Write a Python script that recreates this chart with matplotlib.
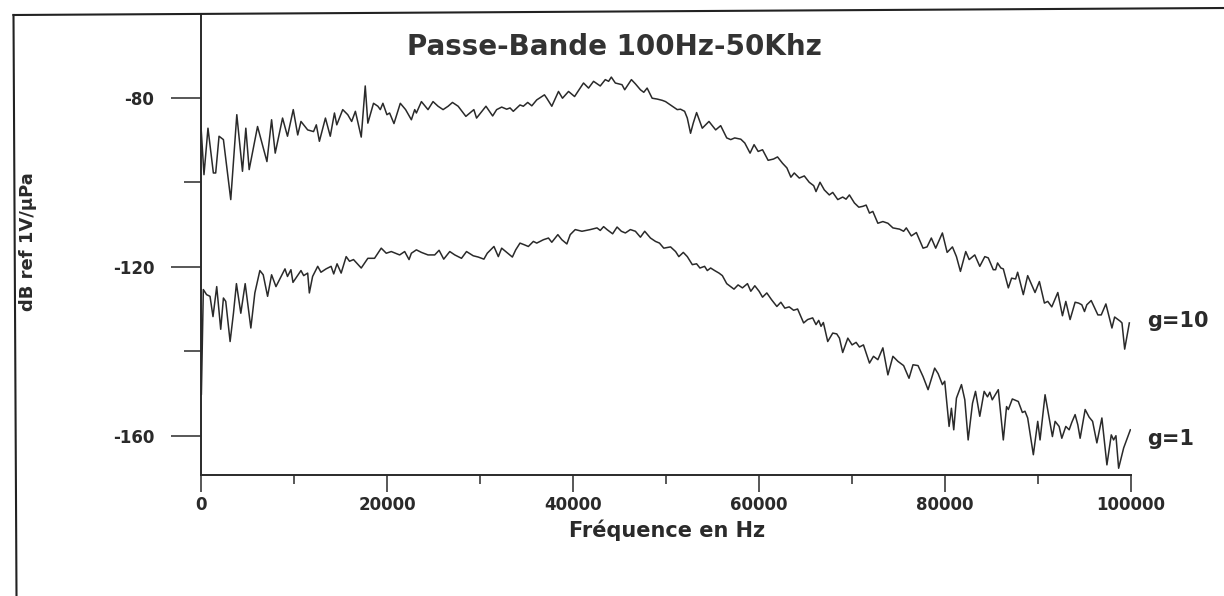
import matplotlib.pyplot as plt
from matplotlib.lines import Line2D
from matplotlib.ticker import MultipleLocator, FixedLocator

# spectre g=10 (kHz, dB ref 1V/uPa)
freq_g10 = [0.0, 0.32, 0.75, 1.33, 1.58, 1.94, 2.41, 3.2, 3.85, 4.46, 4.82, 5.18, 6.08, 7.09, 7.59,
            7.98, 8.77, 9.3, 9.92, 10.4, 10.75, 11.47, 12.1, 12.4, 12.73, 13.38, 13.9, 14.35, 14.6,
            15.24, 15.78, 16.2, 16.6, 17.23, 17.66, 17.94, 18.55, 19.02, 19.28, 19.56, 19.99, 20.28,
            20.75, 21.43, 22.0, 22.62, 22.98, 23.16, 23.7, 24.41, 24.95, 25.49, 26.03, 26.57, 27.04,
            27.65, 28.48, 28.91, 29.34, 29.63, 29.99, 30.64, 31.36, 31.79, 32.33, 32.87, 33.23, 33.58,
            34.3, 34.66, 35.13, 35.57, 36.1, 36.93, 37.18, 37.72, 38.44, 38.87, 39.52, 40.17, 41.13,
            41.67, 42.21, 42.93, 43.47, 43.83, 44.12, 44.55, 45.27, 45.56, 46.28, 46.71, 47.25, 47.61,
            47.97, 48.51, 49.05, 49.59, 49.95, 50.67, 51.21, 51.56, 52.0, 52.29, 52.64, 52.93, 53.29,
            53.9, 54.62, 55.34, 55.88, 56.53, 56.96, 57.39, 58.04, 58.47, 59.04, 59.47, 59.91, 60.38,
            60.98, 61.56, 61.99, 62.53, 63.0, 63.43, 63.79, 64.33, 64.87, 65.4, 65.88, 66.13, 66.56,
            67.02, 67.56, 67.93, 68.47, 69.0, 69.36, 69.72, 70.26, 70.73, 71.16, 71.52, 71.88, 72.24,
            72.78, 73.32, 73.86, 74.4, 75.12, 75.55, 75.84, 76.38, 76.92, 77.64, 78.07, 78.53, 79.0,
            79.72, 80.23, 80.8, 81.23, 81.66, 82.23, 82.6, 83.2, 83.74, 84.28, 84.65, 85.19, 85.44,
            85.65, 86.01, 86.27, 86.81, 87.16, 87.59, 87.81, 88.42, 88.89, 89.68, 90.15, 90.69, 91.05,
            91.48, 92.13, 92.63, 92.99, 93.45, 93.99, 94.36, 94.71, 95.0, 95.25, 95.72, 96.44, 96.8,
            97.3, 97.95, 98.24, 98.85, 99.03, 99.32, 99.82]
db_g10 = [-86.8, -98.2, -87.2, -97.8, -97.8, -89.1, -89.9, -104.1, -84.0, -97.4, -87.2, -97.0, -86.8,
          -95.1, -85.2, -93.1, -84.8, -89.1, -82.8, -88.8, -85.6, -87.6, -88.0, -86.4, -90.3, -84.8,
          -89.1, -83.6, -86.4, -82.8, -84.0, -85.6, -83.2, -89.3, -77.2, -86.0, -81.3, -82.0, -82.8,
          -81.3, -84.0, -83.6, -86.1, -81.3, -82.8, -85.2, -82.8, -83.6, -80.9, -82.8, -80.9, -82.0,
          -82.8, -82.0, -81.1, -82.0, -84.4, -83.6, -82.8, -84.8, -83.8, -82.0, -84.3, -82.8, -82.2,
          -82.7, -82.4, -83.2, -81.7, -82.0, -81.1, -81.9, -80.5, -79.3, -80.1, -82.0, -78.5, -80.1,
          -78.5, -79.7, -76.5, -77.7, -76.1, -77.2, -75.7, -76.1, -75.1, -76.5, -76.9, -78.1, -75.7,
          -76.7, -78.1, -78.7, -77.7, -80.1, -80.3, -80.6, -80.9, -82.0, -82.8, -82.7, -83.2, -84.8,
          -88.4, -86.0, -83.5, -87.2, -85.6, -87.6, -86.6, -89.5, -89.9, -89.5, -89.8, -90.7, -93.1,
          -91.1, -92.7, -92.3, -94.8, -94.5, -94.0, -95.5, -96.6, -98.8, -97.8, -99.0, -98.5, -100.0,
          -100.8, -102.2, -100.0, -101.8, -103.0, -102.4, -104.1, -103.5, -104.0, -103.0, -104.9,
          -105.9, -105.7, -105.4, -107.3, -106.9, -109.7, -109.3, -109.7, -110.8, -111.1, -111.6,
          -110.8, -112.7, -111.9, -115.6, -115.3, -113.2, -115.6, -112.0, -116.6, -115.3, -117.6,
          -121.1, -116.4, -118.3, -117.2, -119.9, -117.6, -117.9, -120.7, -120.7, -119.1, -120.3,
          -120.5, -125.0, -122.7, -122.9, -121.3, -126.6, -122.1, -126.1, -123.5, -128.6, -128.2,
          -129.5, -126.1, -131.6, -128.2, -132.5, -128.4, -128.6, -129.0, -130.6, -129.0, -128.0,
          -131.4, -131.4, -128.8, -134.5, -131.9, -132.9, -133.3, -139.5, -133.3]

# spectre g=1
freq_g1 = [0.0, 0.04, 0.25, 0.6, 0.97, 1.29, 1.69, 2.12, 2.41, 2.66, 3.13, 3.49, 3.81, 4.28, 4.75,
           5.36, 5.79, 6.33, 6.69, 7.16, 7.59, 8.06, 9.03, 9.3, 9.67, 9.89, 10.75, 11.04, 11.47,
           11.65, 12.0, 12.55, 12.9, 13.45, 13.99, 14.27, 14.63, 15.07, 15.61, 15.97, 16.4, 17.23,
           17.94, 18.66, 19.38, 19.92, 20.46, 21.36, 21.9, 22.37, 22.62, 23.16, 23.7, 24.41, 25.13,
           25.6, 26.1, 26.75, 27.29, 28.01, 28.55, 29.27, 29.81, 30.42, 30.78, 31.5, 31.97, 32.33,
           32.87, 33.48, 33.84, 34.3, 34.77, 35.2, 35.74, 36.1, 36.82, 37.36, 37.72, 38.37, 38.8,
           39.34, 39.7, 40.24, 40.96, 41.86, 42.58, 42.93, 43.29, 43.66, 44.26, 44.74, 45.2, 45.63,
           46.17, 46.71, 47.25, 47.71, 48.33, 48.87, 49.3, 49.76, 50.49, 51.03, 51.38, 51.86, 52.29,
           52.83, 53.29, 53.65, 54.15, 54.44, 54.8, 55.23, 55.7, 56.06, 56.53, 56.96, 57.31, 57.75,
           58.22, 58.76, 59.12, 59.55, 60.01, 60.38, 60.84, 61.35, 61.92, 62.35, 62.78, 63.25, 63.72,
           64.15, 64.8, 65.23, 65.77, 66.13, 66.42, 66.67, 66.92, 67.39, 67.93, 68.36, 68.65, 69.0,
           69.55, 70.01, 70.44, 70.8, 71.23, 71.88, 72.31, 72.78, 73.32, 73.86, 74.4, 74.94, 75.55,
           76.13, 76.56, 77.1, 77.64, 78.18, 78.89, 79.26, 79.72, 79.97, 80.44, 80.69, 80.94, 81.23,
           81.77, 82.13, 82.49, 82.96, 83.28, 83.74, 84.21, 84.57, 84.82, 85.08, 85.73, 86.27, 86.62,
           86.81, 87.24, 87.88, 88.32, 88.6, 88.89, 89.5, 89.97, 90.22, 90.76, 91.55, 91.84, 92.27,
           92.56, 92.99, 93.35, 93.64, 93.99, 94.28, 94.53, 95.07, 95.5, 95.87, 96.33, 96.87, 97.41,
           97.88, 98.13, 98.38, 98.67, 99.21, 99.93]
db_g1 = [-125.4, -150.3, -125.4, -126.6, -127.0, -131.8, -124.7, -134.8, -127.4, -128.2, -137.7,
         -131.0, -124.0, -131.0, -124.0, -134.5, -126.2, -120.9, -121.9, -127.0, -121.9, -124.7,
         -120.5, -122.3, -120.7, -123.7, -120.9, -122.1, -121.5, -126.2, -122.3, -119.9, -121.3,
         -120.5, -119.9, -121.7, -119.3, -121.5, -117.6, -118.7, -118.3, -120.3, -118.0, -118.0,
         -115.6, -116.8, -116.4, -117.2, -116.4, -118.3, -116.8, -116.0, -116.6, -117.2, -117.2,
         -116.1, -118.2, -116.4, -117.2, -118.0, -116.4, -117.4, -117.7, -118.2, -116.8, -115.2,
         -117.6, -115.6, -116.6, -117.7, -116.0, -114.4, -114.8, -115.2, -114.0, -114.4, -113.6,
         -113.2, -114.2, -112.4, -113.6, -114.6, -112.4, -111.2, -111.6, -111.2, -110.8, -111.4,
         -110.5, -111.2, -112.2, -110.6, -111.6, -112.0, -111.2, -111.6, -113.0, -111.6, -113.2,
         -114.0, -114.4, -115.6, -115.3, -116.4, -117.6, -116.6, -117.6, -119.5, -119.3, -120.3,
         -119.9, -120.9, -120.3, -120.9, -121.5, -122.1, -124.0, -124.7, -125.3, -124.3, -125.0,
         -124.0, -125.8, -124.5, -125.8, -127.2, -126.2, -127.8, -129.4, -128.4, -129.8, -129.5,
         -130.3, -130.0, -133.3, -132.5, -132.1, -133.7, -132.7, -134.1, -133.2, -137.7, -135.7,
         -135.9, -136.9, -140.3, -136.9, -138.5, -137.9, -139.0, -138.5, -142.8, -141.2, -142.0,
         -139.2, -145.6, -141.2, -142.4, -143.4, -146.4, -143.2, -143.4, -146.0, -149.1, -144.0,
         -145.3, -147.9, -147.1, -157.8, -153.5, -158.6, -151.1, -147.9, -151.5, -161.0, -152.3,
         -149.5, -155.4, -149.5, -150.8, -149.7, -151.5, -149.1, -161.0, -153.1, -153.8, -151.3,
         -151.9, -154.5, -154.2, -155.8, -164.5, -156.6, -161.0, -150.3, -160.2, -156.6, -157.8,
         -160.6, -157.8, -158.6, -156.8, -155.0, -157.4, -160.6, -153.8, -155.6, -156.6, -161.7,
         -155.8, -166.9, -159.8, -161.0, -160.0, -167.7, -162.9, -158.6]

xticks = [0, 20000, 40000, 60000, 80000, 100000]
yticks = [-80, -120, -160]

ink = '#2a2a2a'
font = 'DejaVu Sans'

fig = plt.figure(figsize=(12.24, 5.96), dpi=100)
ax = fig.add_axes([201 / 1224, 1 - 475 / 596, 930 / 1224, 460 / 596])

ax.plot([f * 1000 for f in freq_g10], db_g10, color=ink, lw=1.1)
ax.plot([f * 1000 for f in freq_g1], db_g1, color=ink, lw=1.1)

ax.set_xlim(0, 100000)
ax.set_ylim(-169.3, -60.4)

for s in ['top', 'right']:
    ax.spines[s].set_visible(False)
for s in ['left', 'bottom']:
    ax.spines[s].set_linewidth(1.4)
    ax.spines[s].set_color(ink)

ax.xaxis.set_major_locator(FixedLocator(xticks))
ax.xaxis.set_minor_locator(MultipleLocator(10000))
ax.yaxis.set_major_locator(FixedLocator(yticks))
ax.yaxis.set_minor_locator(FixedLocator([-100, -140]))
ax.set_xticklabels([str(t) for t in xticks])
ax.set_yticklabels([str(t) for t in yticks])

ax.tick_params(axis='x', which='major', direction='out', length=12, width=1.1, color=ink, pad=3)
ax.tick_params(axis='x', which='minor', direction='out', length=6.5, width=1.1, color=ink)
ax.tick_params(axis='y', which='major', direction='out', length=21.6, width=1.1, color=ink, pad=12)
ax.tick_params(axis='y', which='minor', direction='out', length=12, width=1.1, color=ink)
for lab in ax.get_xticklabels() + ax.get_yticklabels():
    lab.set_fontfamily(font)
    lab.set_fontweight('bold')
    lab.set_fontsize(12)
    lab.set_color(ink)

ax.set_xlabel('Fréquence en Hz', fontsize=15, fontweight='bold', family=font, color=ink)
ax.xaxis.set_label_coords(0.501, -0.097)
ax.set_ylabel('dB ref 1V/µPa', fontsize=13, fontweight='bold', family=font, color=ink)
ax.yaxis.set_label_coords(-0.176, 0.507)

ax.text(0.445, 0.93, 'Passe-Bande 100Hz-50Khz', transform=ax.transAxes, ha='center', va='center',
        fontsize=20, fontweight='bold', family=font, color='#333333')

ax.text(101700, -134.2, 'g=10', fontsize=15, fontweight='bold', family=font, color=ink,
        va='baseline', clip_on=False)
ax.text(101700, -162.1, 'g=1', fontsize=15, fontweight='bold', family=font, color=ink,
        va='baseline', clip_on=False)

# cadre de la page
fig.add_artist(Line2D([13.5 / 1224, 16.5 / 1224], [1 - 15 / 596, 0], transform=fig.transFigure,
                      color='#222222', lw=1.5))
fig.add_artist(Line2D([13.5 / 1224, 1.0], [1 - 15 / 596, 1 - 8 / 596], transform=fig.transFigure,
                      color='#222222', lw=1.5))

fig.savefig('out.png', dpi=100)
